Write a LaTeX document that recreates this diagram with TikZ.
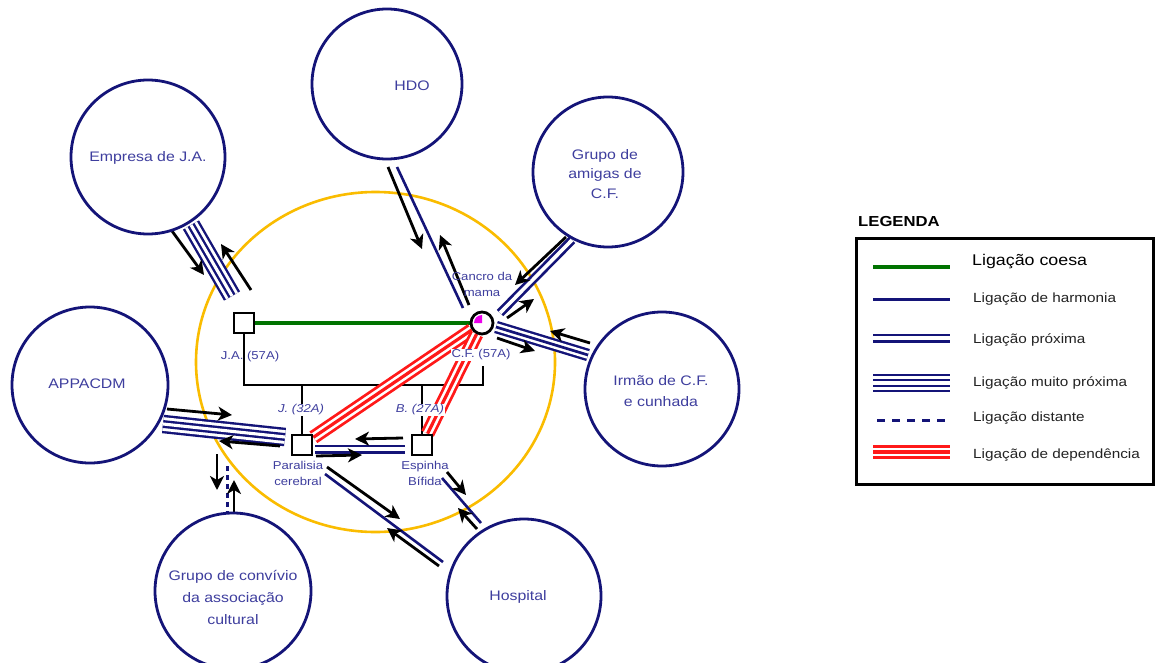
\documentclass[tikz,border=0pt]{standalone}
\usepackage{fontspec}
\setmainfont{Liberation Sans}[FakeStretch=1.15]
\usetikzlibrary{arrows.meta,backgrounds}

\definecolor{ecoblue}{RGB}{20,20,120}
\definecolor{labelblue}{RGB}{62,62,158}
\definecolor{boundary}{RGB}{250,188,0}
\definecolor{cohesive}{RGB}{0,115,0}
\definecolor{depred}{RGB}{255,25,25}
\definecolor{illness}{RGB}{235,0,235}
\definecolor{legtext}{RGB}{35,35,35}

\begin{document}
\begin{tikzpicture}[x=1pt,y=-1pt,
  eco/.style={circle,draw=ecoblue,line width=2.8pt,minimum size=#1,inner sep=0pt},
  eco/.default=154pt,
  biglabel/.style={text=labelblue,font=\fontsize{13.8}{20}\selectfont,align=center,inner sep=0pt},
  smalllabel/.style={text=labelblue,font=\fontsize{11.4}{16}\selectfont,align=center,inner sep=0pt},
  legendtext/.style={text=legtext,font=\fontsize{13.3}{16}\selectfont,anchor=west,inner sep=0pt},
  male/.style={rectangle,draw=black,fill=white,line width=2.8pt,minimum size=20pt,inner sep=0pt},
  female/.style={circle,draw=black,fill=white,line width=2.8pt,minimum size=22pt,inner sep=0pt},
  famline/.style={draw=black,line width=2.8pt},
  cohesivelink/.style={draw=cohesive,line width=3.2pt},
  harmlink/.style={draw=ecoblue,line width=2.6pt},
  closelink/.style={draw=ecoblue,line width=9pt,postaction={draw=white,line width=3.6pt}},
  triplelink/.style={draw=ecoblue,line width=12.5pt,postaction={draw=white,line width=7.7pt},
    postaction={draw=ecoblue,line width=2.7pt}},
  vcloselink/.style={draw=ecoblue,line width=18.5pt,postaction={draw=white,line width=13.7pt},
    postaction={draw=ecoblue,line width=7.9pt},postaction={draw=white,line width=3.1pt}},
  deplink/.style={draw=depred,line width=14pt,postaction={draw=white,line width=8.4pt},
    postaction={draw=depred,line width=3.2pt}},
  distlink/.style={draw=ecoblue,line width=3pt,dash pattern=on 5pt off 4pt},
  flow/.style={draw=black,line width=2.8pt,-{Stealth[length=14pt,width=14pt,inset=4pt]}}
]
\useasboundingbox (0,0) rectangle (1155,663);

% ---------- ecomap systems ----------
\node[eco] (emp) at (148,157) {};
\node[biglabel] (emptxt) at (148,158) {Empresa de J.A.};
\node[eco=150pt] (hdo) at (387,84) {};
\node[biglabel] (hdotxt) at (412,86) {HDO};
\node[eco=150pt] (ami) at (608,172) {};
\node[biglabel,font=\fontsize{13.8}{19.5}\selectfont] (amitxt) at (605,174) {Grupo de\\amigas de\\C.F.};
\node[eco] (irm) at (662,389) {};
\node[biglabel,font=\fontsize{13.8}{21.5}\selectfont] (irmtxt) at (661,391) {Irmão de C.F.\\e cunhada};
\node[eco=156pt] (app) at (90,385) {};
\node[biglabel] (apptxt) at (87,384) {APPACDM};
\node[eco=156pt] (grc) at (233,591) {};
\node[biglabel,font=\fontsize{13.8}{22}\selectfont] (grctxt) at (233,597) {Grupo de convívio\\da associação\\cultural};
\node[eco] (hos) at (524,596) {};
\node[biglabel] (hostxt) at (518,597) {Hospital};

% ---------- family ----------
\node[male] (ja) at (244,323) {};
\node[female] (cf) at (482,323) {};
\node[male] (jj) at (302,445) {};
\node[male] (bb) at (422,445) {};
\fill[illness] (cf.center) -- ++(-8,0) arc[start angle=180,end angle=270,radius=8] -- cycle;

\node[smalllabel] (jatxt) at (250,357) {J.A. (57A)};
\node[smalllabel,fill=white,inner sep=1pt] (cftxt) at (481,355) {C.F. (57A)};
\node[smalllabel] (cftag) at (482,284) {Cancro da\\mama};
\node[smalllabel,fill=white,inner sep=1pt,font=\fontsize{11.4}{16}\selectfont\itshape] (jjtxt) at (301,410) {J. (32A)};
\node[smalllabel,fill=white,inner sep=1pt,font=\fontsize{11.4}{16}\selectfont\itshape] (bbtxt) at (420,410) {B. (27A)};
\node[smalllabel] (jjtag) at (298,473) {Paralisia\\cerebral};
\node[smalllabel] (bbtag) at (425,473) {Espinha\\Bífida};

\coordinate (sibL) at (244,385);
\coordinate (sibR) at (483,385);
\coordinate (cfdrop) at (483,366);
\coordinate (jjup) at (302,385);
\coordinate (bbup) at (422,385);

% ---------- link coordinates ----------
\coordinate (e1) at (191,225);  \coordinate (e2) at (232,296);
\coordinate (ea1) at (172,231); \coordinate (ea2) at (204,275);
\coordinate (eb1) at (251,290); \coordinate (eb2) at (221,244);

\coordinate (h1) at (397,167);  \coordinate (h2) at (463,308);
\coordinate (ha1) at (388,167); \coordinate (ha2) at (422,249);
\coordinate (hb1) at (469,305); \coordinate (hb2) at (440,235);

\coordinate (m1) at (500,313);  \coordinate (m2) at (572,240);
\coordinate (ma1) at (566,237); \coordinate (ma2) at (515,285);
\coordinate (mb1) at (507,318); \coordinate (mb2) at (534,299);

\coordinate (i1) at (496,327);  \coordinate (i2) at (588,355);
\coordinate (ia1) at (590,343); \coordinate (ia2) at (550,331);
\coordinate (ib1) at (497,338); \coordinate (ib2) at (535,351);

\coordinate (p1) at (163,424);  \coordinate (p2) at (285,437);
\coordinate (pa1) at (167,409); \coordinate (pa2) at (232,415);
\coordinate (pb1) at (280,446); \coordinate (pb2) at (219,441);

\coordinate (s1) at (315,449);  \coordinate (s2) at (405,449);
\coordinate (sa1) at (403,438); \coordinate (sa2) at (355,439);
\coordinate (sb1) at (316,456); \coordinate (sb2) at (362,455);

\coordinate (q1) at (325,474);  \coordinate (q2) at (443,562);
\coordinate (qa1) at (327,467); \coordinate (qa2) at (400,519);
\coordinate (qb1) at (439,566); \coordinate (qb2) at (387,528);

\coordinate (r1) at (442,478);  \coordinate (r2) at (481,523);
\coordinate (ra1) at (447,472); \coordinate (ra2) at (466,495);
\coordinate (rb1) at (477,529); \coordinate (rb2) at (458,508);

\coordinate (g1) at (227,466);  \coordinate (g2) at (227,513);
\coordinate (ga1) at (217,454); \coordinate (ga2) at (217,490);
\coordinate (gb1) at (234,514); \coordinate (gb2) at (234,480);

\begin{scope}[on background layer]
  \fill[white] (0,0) rectangle (1155,663);
  % system boundary
  \draw[boundary,line width=2.6pt] (375.5,362) ellipse [x radius=179.5,y radius=170];

  % genogram lines
  \draw[famline] (ja) -- (sibL) -- (sibR) -- (cfdrop);
  \draw[famline] (jjup) -- (jj);
  \draw[famline] (bbup) -- (bb);
  \draw[cohesivelink] (ja) -- (cf);
  \draw[deplink] (jj) -- (cf);
  \draw[deplink] (bb) -- (cf);

  % relationships with the outside systems
  \draw[vcloselink] (e1) -- (e2);
  \draw[flow] (ea1) -- (ea2);
  \draw[flow] (eb1) -- (eb2);

  \draw[harmlink] (h1) -- (h2);
  \draw[flow] (ha1) -- (ha2);
  \draw[flow] (hb1) -- (hb2);

  \draw[closelink] (m1) -- (m2);
  \draw[flow] (ma1) -- (ma2);
  \draw[flow] (mb1) -- (mb2);

  \draw[triplelink] (i1) -- (i2);
  \draw[flow] (ia1) -- (ia2);
  \draw[flow] (ib1) -- (ib2);

  \draw[vcloselink] (p1) -- (p2);
  \draw[flow] (pa1) -- (pa2);
  \draw[flow] (pb1) -- (pb2);

  \draw[closelink] (s1) -- (s2);
  \draw[flow] (sa1) -- (sa2);
  \draw[flow] (sb1) -- (sb2);

  \draw[harmlink] (q1) -- (q2);
  \draw[flow] (qa1) -- (qa2);
  \draw[flow] (qb1) -- (qb2);

  \draw[harmlink] (r1) -- (r2);
  \draw[flow] (ra1) -- (ra2);
  \draw[flow] (rb1) -- (rb2);

  \draw[distlink] (g1) -- (g2);
  \draw[flow] (ga1) -- (ga2);
  \draw[flow] (gb1) -- (gb2);
\end{scope}

% ---------- legend ----------
\node[anchor=west,inner sep=0pt,text=black,font=\fontsize{14.5}{16}\selectfont\bfseries] (legtitle) at (858,222) {LEGENDA};
\node[draw=black,line width=3pt,minimum width=297pt,minimum height=246pt,anchor=north west,inner sep=0pt] (legbox) at (855,237) {};

\coordinate (l1a) at (873,267);   \coordinate (l1b) at (950,267);
\coordinate (l2a) at (873,299.5); \coordinate (l2b) at (950,299.5);
\coordinate (l3a) at (873,338);   \coordinate (l3b) at (950,338);
\coordinate (l4a) at (873,383);   \coordinate (l4b) at (950,383);
\coordinate (l5a) at (877,420);   \coordinate (l5b) at (945,420);
\coordinate (l6a) at (873,452);   \coordinate (l6b) at (950,452);

\draw[cohesivelink] (l1a) -- (l1b);
\draw[harmlink,line width=3pt] (l2a) -- (l2b);
\draw[closelink] (l3a) -- (l3b);
\draw[vcloselink] (l4a) -- (l4b);
\draw[distlink,dash pattern=on 8pt off 7pt] (l5a) -- (l5b);
\draw[deplink] (l6a) -- (l6b);

\node[legendtext,text=black,font=\fontsize{15.5}{18}\selectfont] (lt1) at (972,262) {Ligação coesa};
\node[legendtext] (lt2) at (973,299) {Ligação de harmonia};
\node[legendtext] (lt3) at (973,340) {Ligação próxima};
\node[legendtext] (lt4) at (973,383) {Ligação muito próxima};
\node[legendtext] (lt5) at (973,418) {Ligação distante};
\node[legendtext] (lt6) at (973,455) {Ligação de dependência};
\end{tikzpicture}
\end{document}
